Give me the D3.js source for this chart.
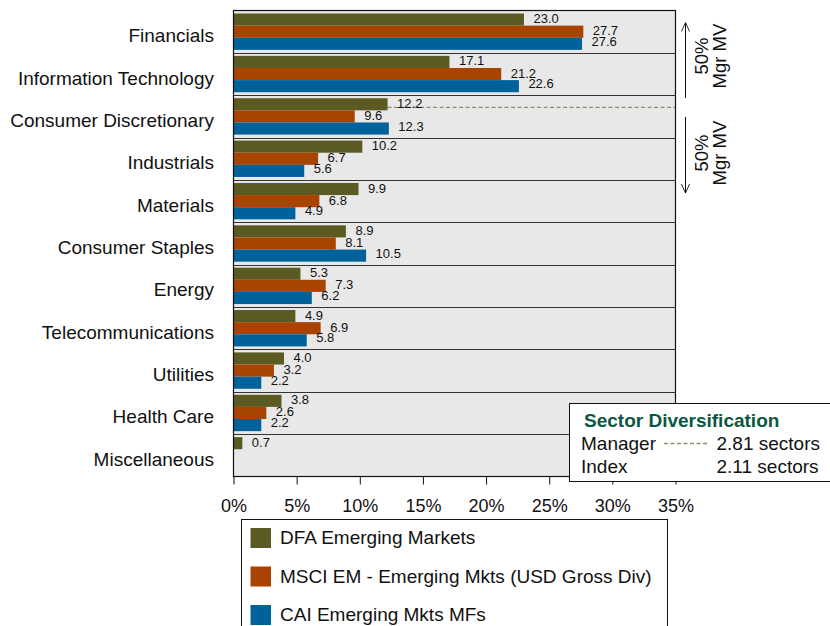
<!DOCTYPE html>
<html><head><meta charset="utf-8">
<script src="https://cdn.jsdelivr.net/npm/d3@7"></script>
<style>body{margin:0;background:#fff}svg{display:block;font-family:"Liberation Sans",Arial,sans-serif}</style>
</head><body>
<svg id="c" width="830" height="626"></svg>
<script>
const categories = ["Financials","Information Technology","Consumer Discretionary","Industrials","Materials","Consumer Staples","Energy","Telecommunications","Utilities","Health Care","Miscellaneous"];
const seriesNames = ["DFA Emerging Markets","MSCI EM - Emerging Mkts (USD Gross Div)","CAI Emerging Mkts MFs"];
const dfa  = [23.0,17.1,12.2,10.2,9.9,8.9,5.3,4.9,4.0,3.8,0.7];
const msci = [27.7,21.2,9.6,6.7,6.8,8.1,7.3,6.9,3.2,2.6,null];
const cai  = [27.6,22.6,12.3,5.6,4.9,10.5,6.2,5.8,2.2,2.2,null];
const colors = ["#5b5a22","#a84400","#00629b"];
const xTicks = [0,5,10,15,20,25,30,35];
const managerSplitValue = 12.2; // dashed line at Consumer Discretionary
const divRows = [["Manager","2.81 sectors"],["Index","2.11 sectors"]];

const svg = d3.select("#c");
const L = 233.5, R = 675.5, T = 10.5, B = 476.5;
const x = d3.scaleLinear().domain([0,35]).range([L,R]);
const y = d3.scaleBand().domain(categories).range([T,B]);
const inner = d3.scaleBand().domain([0,1,2]).range([3,y.bandwidth()-3]);
const series = [dfa,msci,cai];
const labelShift = [-1,-1,-2.5];

svg.append("rect").attr("x",L).attr("y",T).attr("width",R-L).attr("height",B-T).attr("fill","#e8e8e8");

// row separators
svg.append("g").selectAll("line").data(categories.slice(1)).join("line")
  .attr("x1",L).attr("x2",R).attr("y1",d=>Math.round(y(d))+0.5).attr("y2",d=>Math.round(y(d))+0.5)
  .attr("stroke","#333").attr("stroke-width",1);

// dashed manager line
const ci = 2;
const dy0 = y(categories[ci])+inner(0)+inner.bandwidth()/2+3;
svg.append("line").attr("x1",x(managerSplitValue)).attr("x2",R)
  .attr("y1",dy0).attr("y2",dy0)
  .attr("stroke","#8f8e6a").attr("stroke-width",1.3).attr("stroke-dasharray","4,2.5");

// bars
series.forEach((s,si)=>{
  const g = svg.append("g");
  const data = categories.map((c,i)=>({c,v:s[i]})).filter(d=>d.v!=null);
  g.selectAll("rect").data(data).join("rect")
    .attr("x",x(0)).attr("y",d=>y(d.c)+inner(si))
    .attr("width",d=>x(d.v)-x(0)).attr("height",inner.bandwidth())
    .attr("fill",colors[si]);
  g.selectAll("text").data(data).join("text")
    .attr("x",d=>x(d.v)+9.5).attr("y",d=>y(d.c)+inner(si)+inner.bandwidth()/2+labelShift[si])
    .attr("dominant-baseline","central").attr("font-size",13).attr("fill","#111")
    .text(d=>d.v.toFixed(1));
});

// category labels
svg.append("g").selectAll("text").data(categories).join("text")
  .attr("x",214).attr("y",d=>y(d)+y.bandwidth()/2+10.5).attr("text-anchor","end")
  .attr("font-size",19).attr("fill","#111").text(d=>d);

// frame
svg.append("rect").attr("x",L).attr("y",T).attr("width",R-L).attr("height",B-T).attr("fill","none").attr("stroke","#111").attr("stroke-width",1.2);

// x axis
const ax = svg.append("g").attr("transform",`translate(0,${B})`)
  .call(d3.axisBottom(x).tickValues(xTicks).tickFormat(d=>d+"%").tickSize(8).tickSizeOuter(0));
ax.select(".domain").remove();
ax.selectAll("line").attr("stroke","#111");
ax.selectAll("text").attr("font-size",18).attr("fill","#111").attr("y",35).attr("dy",0).attr("font-family","Liberation Sans, Arial, sans-serif");

// arrows on right
const defs = svg.append("defs");
defs.append("marker").attr("id","ah").attr("viewBox","0 0 10 10").attr("refX",10).attr("refY",5)
  .attr("markerWidth",9).attr("markerHeight",9).attr("orient","auto-start-reverse").attr("markerUnits","userSpaceOnUse")
  .append("path").attr("d","M0,0.5 L10,5 L0,9.5").attr("fill","none").attr("stroke","#111").attr("stroke-width",1);
const ax0 = 685.5;
svg.append("line").attr("x1",ax0).attr("x2",ax0).attr("y1",22.5).attr("y2",98).attr("stroke","#111").attr("marker-start","url(#ah)");
svg.append("line").attr("x1",ax0).attr("x2",ax0).attr("y1",117).attr("y2",193).attr("stroke","#111").attr("marker-end","url(#ah)");
[56,153].forEach(cy=>{
  const t = svg.append("text").attr("transform",`translate(707.5,${cy}) rotate(-90)`).attr("text-anchor","middle").attr("font-size",18.5).attr("fill","#111");
  t.append("tspan").attr("x",0).attr("dy",0).text("50%");
  t.append("tspan").attr("x",0).attr("dy",18).text("Mgr MV");
});

// diversification box
svg.append("rect").attr("x",569.5).attr("y",403.5).attr("width",262).attr("height",78).attr("fill","#fff").attr("stroke","#111");
svg.append("text").attr("x",584).attr("y",427.3).attr("font-size",19).attr("font-weight","bold").attr("fill","#0b5741").text("Sector Diversification");
divRows.forEach((r,i)=>{
  svg.append("text").attr("x",581).attr("y",450+i*22.5).attr("font-size",19).attr("fill","#111").text(r[0]);
  svg.append("text").attr("x",716.5).attr("y",450+i*22.5).attr("font-size",19).attr("fill","#111").text(r[1]);
});
svg.append("line").attr("x1",664).attr("x2",707).attr("y1",443.5).attr("y2",443.5).attr("stroke","#8f8e6a").attr("stroke-width",1.3).attr("stroke-dasharray","4,2.5");

// bottom legend
svg.append("rect").attr("x",241.5).attr("y",519.5).attr("width",426).attr("height",120).attr("fill","#fff").attr("stroke","#111");
seriesNames.forEach((n,i)=>{
  svg.append("rect").attr("x",250.5).attr("y",528+i*38.5).attr("width",20.5).attr("height",20).attr("fill",colors[i]);
  svg.append("text").attr("x",280).attr("y",544+i*38.5).attr("font-size",19).attr("fill","#111").text(n);
});
</script>
</body></html>
